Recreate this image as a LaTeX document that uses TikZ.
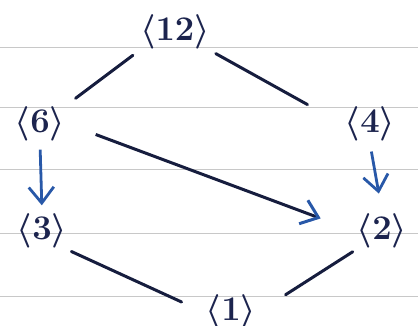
\documentclass[tikz,border=0pt]{standalone}
\usepackage{amsmath}
\usepackage{tikz}
\usetikzlibrary{arrows.meta, positioning, backgrounds}
\definecolor{cInk}{RGB}{28,36,78}
\definecolor{cPen}{RGB}{40,88,168}
\definecolor{cRule}{RGB}{200,200,200}
\tikzset{
	grp/.style     ={inner sep=1pt, text=cInk, font=\fontsize{17}{19}\selectfont\boldmath},
	edge/.style    ={line width=1.5pt, cInk!80!black, line cap=round},
	incl/.style    ={line width=1.4pt, cPen, -{Straight Barb[length=2.8mm, width=4.4mm, color=cPen]}},
	incldiag/.style={line width=1.5pt, cInk!80!black, -{Straight Barb[length=2.8mm, width=4.4mm, color=cPen]}},
	paperrule/.style={line width=0.5pt, cRule},
}

\begin{document}
\begin{tikzpicture}[x=0.5pt, y=-0.5pt]
	\useasboundingbox (0,0) rectangle (418,326);
	% ruled paper
	\foreach \yy in {48,108,170,233,296}
		\draw[paperrule] (0,\yy) -- (418,\yy);
	% subgroups
	\node[grp] (n12) at (175,32)  {$\langle 12\rangle$};
	\node[grp] (n6)  at (40,124)  {$\langle 6\rangle$};
	\node[grp] (n4)  at (370,124) {$\langle 4\rangle$};
	\node[grp] (n3)  at (42,231)  {$\langle 3\rangle$};
	\node[grp] (n2)  at (382,231) {$\langle 2\rangle$};
	\node[grp] (n1)  at (231,312) {$\langle 1\rangle$};
	% lattice
	\draw[edge, shorten <=3pt, shorten >=5pt] (n12.south west) -- (n6.north east);
	\draw[edge, shorten <=2pt, shorten >=20pt] (n12.south east) -- (n4.west);
	\draw[incl, shorten <=3pt, shorten >=3pt] (n6.south) -- (n3.north);
	\draw[incl, shorten <=4pt, shorten >=9pt] (n4.south) -- (n2.north);
	\draw[incldiag, shorten <=15pt, shorten >=18pt] (n6.east) -- (n2.west);
	\draw[edge, shorten <=1pt, shorten >=12pt] (n3.south east) -- (n1.west);
	\draw[edge, shorten <=1pt, shorten >=16pt] (n2.south west) -- (n1.east);
\end{tikzpicture}
\end{document}
